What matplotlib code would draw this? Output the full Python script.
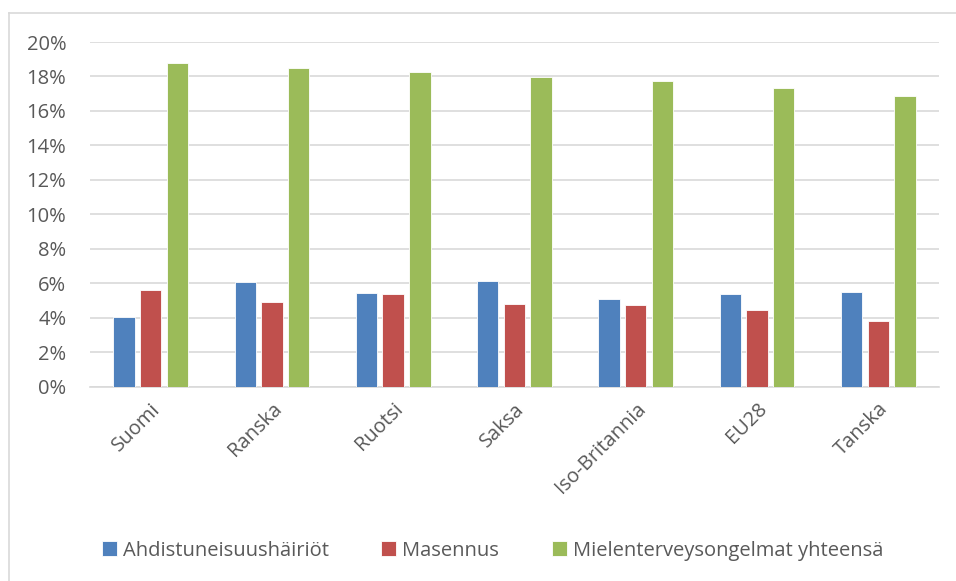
import numpy as np
import matplotlib.pyplot as plt
from matplotlib.lines import Line2D

# Data (percent)
countries = ['Suomi', 'Ranska', 'Ruotsi', 'Saksa', 'Iso-Britannia', 'EU28', 'Tanska']
ahdistus = [4.06, 6.05, 5.43, 6.11, 5.07, 5.37, 5.51]
masennus = [5.61, 4.93, 5.39, 4.79, 4.74, 4.45, 3.83]
yhteensa = [18.78, 18.49, 18.26, 17.97, 17.74, 17.33, 16.87]

series_names = ['Ahdistuneisuushäiriöt', 'Masennus', 'Mielenterveysongelmat yhteensä']
colors = ['#4F81BD', '#C0504D', '#9BBB59']
yticks = [0, 2, 4, 6, 8, 10, 12, 14, 16, 18, 20]

plt.rcParams['font.family'] = ['Open Sans', 'DejaVu Sans']
text_color = '#595959'
grid_color = '#d9d9d9'
fs = 14.5

fig = plt.figure(figsize=(9.56, 5.81), dpi=100)
ax = fig.add_axes([0.0941, 0.3344, 0.8880, 0.5933])

# chart area border (only top and left edges are inside the crop)
W, H = 956, 581
fig.lines.append(Line2D([8.5 / W, 1], [1 - 13 / H, 1 - 13 / H], transform=fig.transFigure,
                        color=grid_color, linewidth=1.2))
fig.lines.append(Line2D([8.5 / W, 8.5 / W], [0, 1 - 13 / H], transform=fig.transFigure,
                        color=grid_color, linewidth=1.2))

x = np.arange(len(countries))
width = 0.176
offset = 0.22
for i, (vals, name, col) in enumerate(zip([ahdistus, masennus, yhteensa], series_names, colors)):
    ax.bar(x + (i - 1) * offset, vals, width, color=col, label=name,
           edgecolor='white', linewidth=0.6, zorder=3)

ax.set_xlim(-0.5, len(countries) - 0.5)
ax.set_ylim(0, 20)
ax.set_yticks(yticks)
ax.set_yticklabels([f'{t}%' for t in yticks], fontsize=fs, color=text_color)
ax.set_xticks(x)
ax.set_xticklabels(countries, rotation=45, ha='right', rotation_mode='anchor',
                   fontsize=fs, color=text_color)
ax.tick_params(axis='both', length=0)
ax.tick_params(axis='x', pad=9)
ax.tick_params(axis='y', pad=17)

ax.yaxis.grid(True, color=grid_color, linewidth=1.2, zorder=0)
for s in ['top', 'right', 'left']:
    ax.spines[s].set_visible(False)
ax.spines['bottom'].set_color(grid_color)
ax.spines['bottom'].set_linewidth(1.2)
ax.set_axisbelow(True)

leg = fig.legend(loc='center', bbox_to_anchor=(0.515, 0.052), ncol=3, frameon=False,
                 fontsize=fs, handlelength=0.75, handleheight=0.75,
                 handletextpad=0.3, columnspacing=2.6, labelcolor=text_color)

fig.savefig('out.png', dpi=100)
